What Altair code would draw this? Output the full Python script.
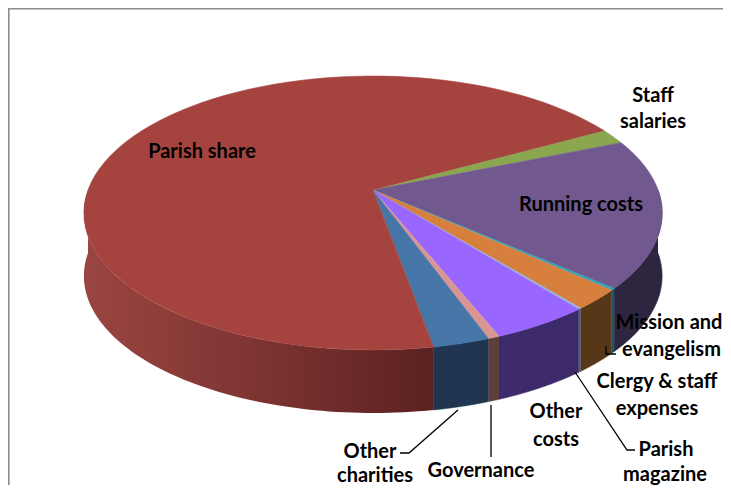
import altair as alt
import pandas as pd

# ---------------- data ----------------
categories = ["Staff salaries", "Running costs", "Mission and evangelism",
              "Clergy & staff expenses", "Parish magazine", "Other costs",
              "Governance", "Other charities", "Parish share"]
values = [1.8, 17.6, 0.22, 2.4, 0.14, 4.7, 0.55, 2.7, 69.8]

top_colors = ["#8AA64E", "#71598F", "#2FA3BE", "#D7803D", "#93B6E0",
              "#9966FF", "#D99593", "#4675A8", "#A5443F"]
side_colors = ["#56682F", "#2E2640", "#1D5666", "#573718", "#4B6074",
               "#3D2A6A", "#5C3E3D", "#1F3552", "#7A3230"]

label_lines = ["Staff", "salaries", "Running costs", "Mission and", "evangelism",
               "Clergy & staff", "expenses", "Parish", "magazine", "Other", "costs",
               "Governance", "Other", "charities", "Parish share"]

# ---------------- layout (pixels in page coordinates) ----------------
W, H, OFF = 715, 477, 8
START = 61.3          # rotation of first slice (deg, clockwise from 12 o'clock)
CX, CY = 373, 190     # apex of the pie
A, B, K = 285, 133.1, 0.168   # perspective projection
D = 63                # thickness of the pie
N = 80

label_pos = [(653, 96), (653, 122), (581, 205), (669, 323), (671.5, 350),
             (657, 382), (657, 409), (666, 450), (665, 475), (556, 412),
             (556, 440), (481, 471), (370, 452), (375, 476), (202, 152)]

leaders = [
    ("mission", [(606, 346), (606, 354), (616, 354)]),
    ("magazine", [(575, 372), (627, 450), (635, 450)]),
    ("governance", [(491, 405), (491, 457)]),
    ("charities", [(458, 410), (409, 453), (400, 453)]),
]

df = pd.DataFrame({"name": categories, "value": values, "idx": list(range(len(values)))})
lab_df = pd.DataFrame({"text": label_lines,
                       "u": [p[0] for p in label_pos],
                       "v": [p[1] for p in label_pos]})
lead_rows = []
for lid, pts in leaders:
    for i, (x, y) in enumerate(pts):
        lead_rows.append({"id": lid, "o": i, "u": x, "v": y})
lead_df = pd.DataFrame(lead_rows)

xs = alt.Scale(domain=[OFF, OFF + W], range=[0, W], nice=False, zero=False)
ys = alt.Scale(domain=[OFF, OFF + H], range=[0, H], nice=False, zero=False)
col_top = alt.Scale(domain=categories, range=top_colors)
col_side = alt.Scale(domain=categories, range=side_colors)


def project(ch):
    return (ch.transform_calculate(X="datum.r*sin(datum.t*PI/180)",
                                   Y="-datum.r*cos(datum.t*PI/180)")
              .transform_calculate(w=f"1 - {K}*datum.Y")
              .transform_calculate(u=f"{CX} + {A}*datum.X/datum.w",
                                   v=f"{CY} + {B}*datum.Y/datum.w + datum.dv"))


base = (alt.Chart(df)
        .transform_joinaggregate(total="sum(value)")
        .transform_window(cum="sum(value)", sort=[alt.SortField("idx")], frame=[None, 0])
        .transform_calculate(a0=f"{START} + 360*(datum.cum - datum.value)/datum.total",
                             a1=f"{START} + 360*datum.cum/datum.total"))

# ---- side faces ----
side = (base.transform_calculate(s0="max(datum.a0, 90)", s1="min(datum.a1, 270)")
        .transform_filter("datum.s1 > datum.s0")
        .transform_calculate(steps=f"sequence(0, {2 * N + 2})")
        .transform_flatten(["steps"], as_=["s"])
        .transform_calculate(
            t=f"datum.s <= {N} ? datum.s0 + (datum.s1-datum.s0)*datum.s/{N} : datum.s1 - (datum.s1-datum.s0)*(datum.s-{N}-1)/{N}",
            dv=f"datum.s <= {N} ? 0 : {D}", r="1"))
side = project(side)

side_other = side.transform_filter("datum.name != 'Parish share'").mark_line(
    filled=True, strokeWidth=0.6).encode(
    x=alt.X("u:Q", scale=xs, axis=None),
    y=alt.Y("v:Q", scale=ys, axis=None),
    color=alt.Color("name:N", scale=col_side, legend=None),
    stroke=alt.Stroke("name:N", scale=col_side, legend=None),
    order=alt.Order("s:Q"),
    detail="name:N",
)

red_grad = alt.Gradient(gradient="linear", x1=0, x2=1, y1=0, y2=0,
                        stops=[alt.GradientStop(color="#9A4541", offset=0),
                               alt.GradientStop(color="#7D3431", offset=0.5),
                               alt.GradientStop(color="#5A2120", offset=1)])
side_red = side.transform_filter("datum.name == 'Parish share'").mark_line(
    filled=True, fill=red_grad, strokeWidth=0).encode(
    x=alt.X("u:Q", scale=xs, axis=None),
    y=alt.Y("v:Q", scale=ys, axis=None),
    order=alt.Order("s:Q"),
    detail="name:N",
)

sides = alt.layer(side_red, side_other)

# ---- top face ----
top = (base.transform_calculate(steps=f"sequence(0, {N + 2})")
       .transform_flatten(["steps"], as_=["s"])
       .transform_calculate(t=f"datum.s == 0 ? 0 : datum.a0 + (datum.a1-datum.a0)*(datum.s-1)/{N}",
                            r="datum.s == 0 ? 0 : 1", dv="0"))
top = project(top).mark_line(filled=True, strokeWidth=0.6, strokeJoin="round").encode(
    x=alt.X("u:Q", scale=xs, axis=None),
    y=alt.Y("v:Q", scale=ys, axis=None),
    color=alt.Color("name:N", scale=col_top, legend=None),
    stroke=alt.Stroke("name:N", scale=col_top, legend=None),
    order=alt.Order("s:Q"),
    detail="name:N",
)

lead = alt.Chart(lead_df).mark_line(color="black", strokeWidth=1.3).encode(
    x=alt.X("u:Q", scale=xs, axis=None),
    y=alt.Y("v:Q", scale=ys, axis=None),
    order=alt.Order("o:Q"),
    detail="id:N",
)

labels = alt.Chart(lab_df).mark_text(font="Lato", fontWeight="bold", fontSize=20,
                                     align="center", baseline="middle", color="black").encode(
    x=alt.X("u:Q", scale=xs, axis=None),
    y=alt.Y("v:Q", scale=ys, axis=None),
    text="text:N",
)

border = alt.Chart(pd.DataFrame({"o": [0, 1, 2], "u": [OFF + W, 8.8, 8.8], "v": [8.8, 8.8, OFF + H]})).mark_line(
    color="#8C8C8C", strokeWidth=1.6).encode(
    x=alt.X("u:Q", scale=xs, axis=None),
    y=alt.Y("v:Q", scale=ys, axis=None),
    order=alt.Order("o:Q"),
)

chart = alt.layer(sides, top, lead, labels, border).resolve_scale(
    color="independent", stroke="independent"
).properties(
    width=W, height=H, autosize=alt.AutoSizeParams(type="none"), padding=0,
).configure_view(stroke=None)

chart.save("out.html", embed_options={"renderer": "svg", "actions": False})
